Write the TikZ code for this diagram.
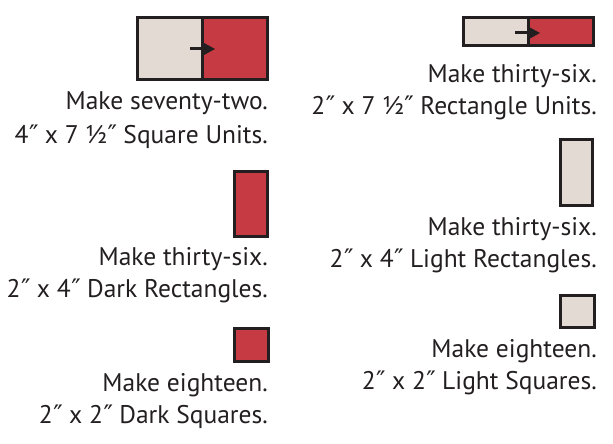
\documentclass[tikz,border=0pt]{standalone}
\usepackage{fontspec}
\setmainfont{PT Sans}
\newfontfamily\primefont{DejaVu Sans}
\newcommand{\dprm}{{\primefont\kern0.5pt″\kern-0.5pt}}
\usetikzlibrary{arrows.meta}
\definecolor{lightfill}{HTML}{E3DBD3}
\definecolor{darkfill}{HTML}{C63A43}
\definecolor{edge}{HTML}{231F20}
\definecolor{txt}{HTML}{231F20}
\tikzset{
  box/.style={draw=edge, line width=3pt, inner sep=0pt, outer sep=0pt},
  lightbox/.style={box, fill=lightfill},
  darkbox/.style={box, fill=darkfill},
  lbl/.style={anchor=base east, inner sep=0pt, text=txt, font=\fontsize{25.5}{30}\selectfont},
  pointer/.style={draw=edge, line width=3pt, -{Stealth[length=13pt,width=14pt,inset=3pt]}}
}
\begin{document}
\begin{tikzpicture}[x=1pt,y=-1pt]
\useasboundingbox (0,0) rectangle (613,444);
% square unit
\node[lightbox, minimum width=64.5pt, minimum height=62pt] (sul) at (169.75,48.5) {};
\node[darkbox, minimum width=65pt, minimum height=62pt] (sur) at (234.5,48.5) {};
\coordinate (sua) at (190,49);
\coordinate (sub) at (215,49);
\draw[pointer] (sua) -- (sub);
\node[lbl] (t1) at (268,109) {Make seventy-two.};
\node[lbl] (t2) at (268,143) {4\dprm{} x 7 ½\dprm{} Square Units.};
% rectangle unit
\node[lightbox, minimum width=65pt, minimum height=28pt] (rul) at (495.5,31.5) {};
\node[darkbox, minimum width=65pt, minimum height=28pt] (rur) at (560.5,31.5) {};
\coordinate (rua) at (515,33);
\coordinate (rub) at (540,33);
\draw[pointer] (rua) -- (rub);
\node[lbl] (t3) at (597,82) {Make thirty-six.};
\node[lbl] (t4) at (597,114) {2\dprm{} x 7 ½\dprm{} Rectangle Units.};
% dark rectangle
\node[darkbox, minimum width=33pt, minimum height=65pt] (dr) at (251,204) {};
\node[lbl] (t5) at (268,265) {Make thirty-six.};
\node[lbl] (t6) at (268,297) {2\dprm{} x 4\dprm{} Dark Rectangles.};
% light rectangle
\node[lightbox, minimum width=32pt, minimum height=66pt] (lr) at (576.5,172.5) {};
\node[lbl] (t7) at (597,235) {Make thirty-six.};
\node[lbl] (t8) at (597,267) {2\dprm{} x 4\dprm{} Light Rectangles.};
% dark square
\node[darkbox, minimum width=34pt, minimum height=33pt] (ds) at (251.5,345) {};
\node[lbl] (t9) at (268,391) {Make eighteen.};
\node[lbl] (t10) at (268,423) {2\dprm{} x 2\dprm{} Dark Squares.};
% light square
\node[lightbox, minimum width=34pt, minimum height=32pt] (ls) at (577.5,311.5) {};
\node[lbl] (t11) at (597,357) {Make eighteen.};
\node[lbl] (t12) at (597,389) {2\dprm{} x 2\dprm{} Light Squares.};
\end{tikzpicture}
\end{document}
